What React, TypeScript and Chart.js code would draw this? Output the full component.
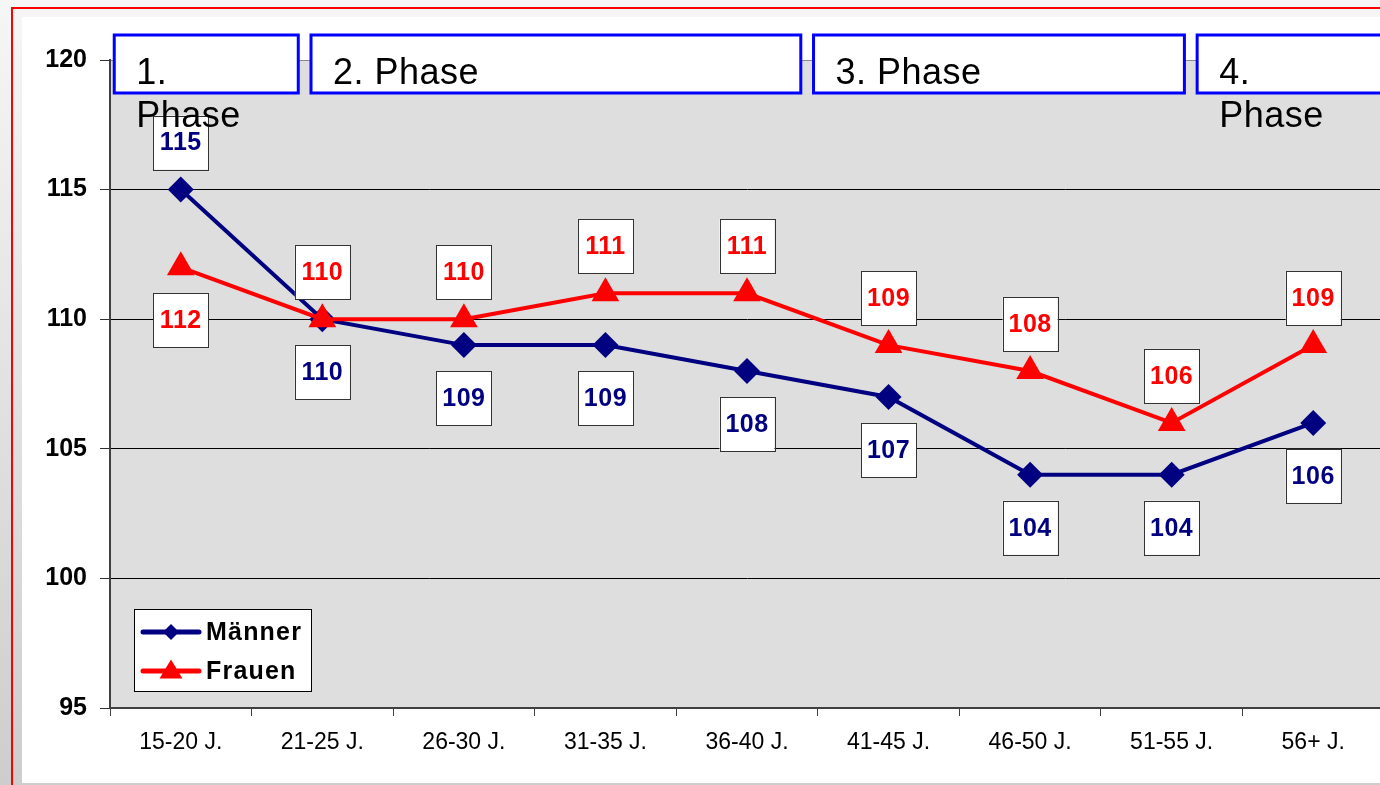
import React, { useEffect, useRef } from 'react';
import { Chart, registerables } from 'chart.js';

Chart.register(...registerables);

const CATEGORIES = ['15-20 J.', '21-25 J.', '26-30 J.', '31-35 J.', '36-40 J.', '41-45 J.', '46-50 J.', '51-55 J.', '56+ J.'];
const MAENNER = [115, 110, 109, 109, 108, 107, 104, 104, 106];
const FRAUEN = [112, 110, 110, 111, 111, 109, 108, 106, 109];
const MAENNER_LABEL_SIDE = ['above', 'below', 'below', 'below', 'below', 'below', 'below', 'below', 'below'];
const FRAUEN_LABEL_SIDE = ['below', 'above', 'above', 'above', 'above', 'above', 'above', 'above', 'above'];
const Y_MIN = 95;
const Y_MAX = 120;
const Y_STEP = 5;
const PHASE_LINES = [['1.', 'Phase'], ['2. Phase'], ['3. Phase'], ['4.', 'Phase']];
const PHASE_FROM = [-0.47, 0.92, 4.47, 7.18];
const PHASE_TO = [0.83, 4.38, 7.09, 8.8];

const MAENNER_COLOR = '#000080';
const FRAUEN_COLOR = '#ff0000';
const FONT = '"Liberation Sans", Arial, sans-serif';

function diamond(ctx: CanvasRenderingContext2D, x: number, y: number, r: number) {
  ctx.beginPath();
  ctx.moveTo(x, y - r);
  ctx.lineTo(x + r, y);
  ctx.lineTo(x, y + r);
  ctx.lineTo(x - r, y);
  ctx.closePath();
  ctx.fill();
}

function triangle(ctx: CanvasRenderingContext2D, x: number, y: number, w: number, h: number) {
  ctx.beginPath();
  ctx.moveTo(x, y - h / 2);
  ctx.lineTo(x + w / 2, y + h / 2);
  ctx.lineTo(x - w / 2, y + h / 2);
  ctx.closePath();
  ctx.fill();
}

const bgPlugin = {
  id: 'plotBg',
  beforeDraw(chart: any) {
    const { ctx, chartArea } = chart;
    ctx.save();
    ctx.fillStyle = '#dedede';
    ctx.fillRect(chartArea.left, chartArea.top, chartArea.right - chartArea.left, chartArea.bottom - chartArea.top);
    ctx.restore();
  },
};

const labelPlugin = {
  id: 'boxLabels',
  afterDatasetsDraw(chart: any) {
    const { ctx } = chart;
    const sides = [MAENNER_LABEL_SIDE, FRAUEN_LABEL_SIDE];
    ctx.save();
    ctx.font = `bold 25px ${FONT}`;
    ctx.textAlign = 'center';
    ctx.textBaseline = 'middle';
    try { (ctx as any).letterSpacing = '0.5px'; } catch (e) {}
    chart.data.datasets.forEach((ds: any, di: number) => {
      const meta = chart.getDatasetMeta(di);
      meta.data.forEach((pt: any, i: number) => {
        const side = sides[di][i];
        const cy = pt.y + (side === 'above' ? -47 : 53);
        const cx = pt.x;
        const w = 55, h = 54;
        ctx.fillStyle = '#ffffff';
        ctx.fillRect(cx - w / 2, cy - h / 2, w, h);
        ctx.strokeStyle = '#333333';
        ctx.lineWidth = 1;
        ctx.strokeRect(Math.round(cx - w / 2) + 0.5, Math.round(cy - h / 2) + 0.5, w, h);
        ctx.fillStyle = ds.borderColor;
        ctx.fillText(String(ds.data[i]), cx, cy + 1);
      });
    });

    // legend
    const ca = chart.chartArea;
    const lx = ca.left + 24;
    const ly = ca.bottom - 99;
    ctx.fillStyle = '#ffffff';
    ctx.fillRect(lx, ly, 177, 82);
    ctx.strokeStyle = '#000000';
    ctx.lineWidth = 1;
    ctx.strokeRect(lx + 0.5, ly + 0.5, 177, 82);
    const rows = [
      { label: 'Männer', color: MAENNER_COLOR, y: ly + 23, kind: 'diamond' },
      { label: 'Frauen', color: FRAUEN_COLOR, y: ly + 62, kind: 'triangle' },
    ];
    rows.forEach((r) => {
      ctx.strokeStyle = r.color;
      ctx.lineWidth = 5;
      ctx.lineCap = 'round';
      ctx.beginPath();
      ctx.moveTo(lx + 9, r.y);
      ctx.lineTo(lx + 65, r.y);
      ctx.stroke();
      ctx.fillStyle = r.color;
      if (r.kind === 'diamond') diamond(ctx, lx + 37, r.y, 8);
      else triangle(ctx, lx + 37, r.y - 2, 23, 19);
      ctx.fillStyle = '#000000';
      ctx.font = `bold 25px ${FONT}`;
      try { (ctx as any).letterSpacing = '1.2px'; } catch (e) {}
      ctx.textAlign = 'left';
      ctx.textBaseline = 'middle';
      ctx.fillText(r.label, lx + 72, r.y + 1);
    });
    ctx.restore();
  },
};

const phasePlugin = {
  id: 'phases',
  afterDraw(chart: any) {
    const { ctx, chartArea } = chart;
    const xs = chart.scales.x;
    ctx.save();
    PHASE_LINES.forEach((lines, i) => {
      const left = xs.getPixelForValue(PHASE_FROM[i]);
      const right = xs.getPixelForValue(PHASE_TO[i]);
      const top = chartArea.top - 25;
      const h = 58;
      ctx.fillStyle = '#ffffff';
      ctx.fillRect(left, top, right - left, h);
      ctx.strokeStyle = '#0000ff';
      ctx.lineWidth = 3;
      ctx.strokeRect(left, top, right - left, h);
      ctx.fillStyle = '#000000';
      ctx.font = `36px ${FONT}`;
      try { (ctx as any).letterSpacing = '0.5px'; } catch (e) {}
      ctx.textAlign = 'left';
      ctx.textBaseline = 'alphabetic';
      lines.forEach((ln, j) => {
        ctx.fillText(ln, left + 22, top + 49 + j * 43);
      });
    });
    ctx.restore();
  },
};

export default function App() {
  const ref = useRef<HTMLCanvasElement | null>(null);

  useEffect(() => {
    if (!ref.current) return;
    const chart = new Chart(ref.current, {
      type: 'line',
      data: {
        labels: CATEGORIES,
        datasets: [
          {
            label: 'Männer',
            data: MAENNER,
            borderColor: MAENNER_COLOR,
            backgroundColor: MAENNER_COLOR,
            borderWidth: 4,
            pointStyle: 'rectRot',
            pointRadius: 13,
            pointBorderWidth: 0,
            tension: 0,
            order: 1,
          },
          {
            label: 'Frauen',
            data: FRAUEN,
            borderColor: FRAUEN_COLOR,
            backgroundColor: FRAUEN_COLOR,
            borderWidth: 4,
            pointStyle: 'triangle',
            pointRadius: 16,
            pointBorderWidth: 0,
            tension: 0,
            order: 0,
          },
        ],
      },
      options: {
        animation: false,
        responsive: false,
        devicePixelRatio: 1,
        layout: { padding: { left: 0, top: 60, right: 15, bottom: 0 } },
        plugins: {
          legend: { display: false },
          tooltip: { enabled: false },
        },
        scales: {
          x: {
            offset: true,
            grid: {
              offset: true,
              drawOnChartArea: false,
              drawTicks: true,
              tickLength: 8,
              color: '#404040',
              tickColor: '#404040',
            },
            border: { display: true, color: '#404040', width: 2 },
            ticks: {
              color: '#000000',
              font: { family: FONT, size: 23 },
              padding: 13,
              maxRotation: 0,
              autoSkip: false,
            },
            afterFit(scale: any) {
              scale.height = 77;
            },
          },
          y: {
            min: Y_MIN,
            max: Y_MAX,
            grid: {
              drawTicks: true,
              tickLength: 10,
              color: (c: any) =>
                c.tick && c.tick.value === Y_MAX ? '#8a8a8a' : c.tick && c.tick.value === Y_MIN ? 'rgba(0,0,0,0)' : '#000000',
              tickColor: '#333333',
              lineWidth: 1,
            },
            border: { display: true, color: '#404040', width: 2 },
            ticks: {
              stepSize: Y_STEP,
              color: '#000000',
              font: { family: FONT, size: 25, weight: 'bold' },
              padding: 13,
            },
            afterFit(scale: any) {
              scale.width = 110;
            },
          },
        },
      },
      plugins: [bgPlugin, labelPlugin, phasePlugin],
    } as any);
    return () => chart.destroy();
  }, []);

  return (
    <div
      style={{
        position: 'fixed',
        left: 0,
        top: 0,
        width: 1380,
        height: 785,
        overflow: 'hidden',
        background: 'linear-gradient(#f6f6f6, #cdcdcd)',
      }}
    >
      <div
        style={{
          position: 'absolute',
          left: 11,
          top: 7,
          width: 1420,
          height: 820,
          border: '2px solid #ff0000',
          boxSizing: 'border-box',
        }}
      />
      <div
        style={{
          position: 'absolute',
          left: 22,
          top: 17,
          width: 1400,
          height: 766,
          background: '#ffffff',
        }}
      />
      <canvas
        ref={ref}
        width={1400}
        height={785}
        style={{ position: 'absolute', left: 0, top: 0, width: 1400, height: 785 }}
      />
    </div>
  );
}
